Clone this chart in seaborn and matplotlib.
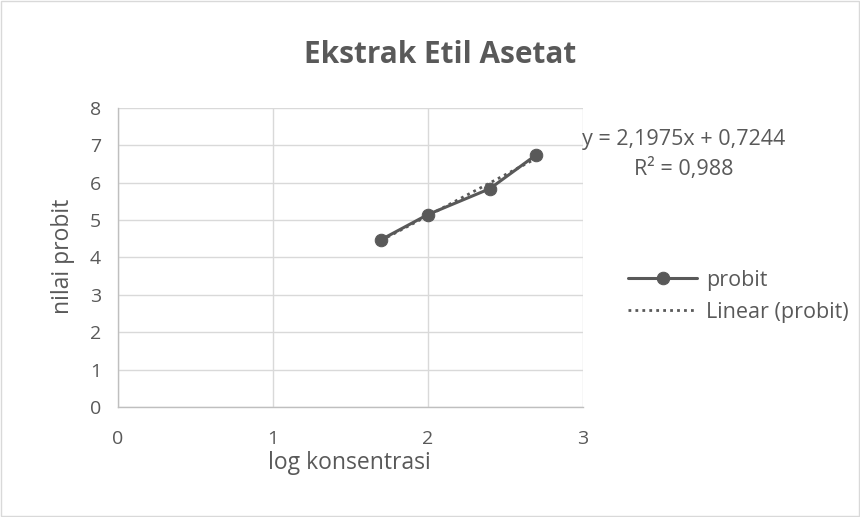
import numpy as np
import pandas as pd
import seaborn as sns
import matplotlib.pyplot as plt

# data
log_konsentrasi = [1.699, 2.0, 2.398, 2.699]
probit = [4.48, 5.15, 5.84, 6.75]
slope = 2.1975
intercept = 0.7244
r2 = 0.988
x_ticks = [0, 1, 2, 3]
y_ticks = [0, 1, 2, 3, 4, 5, 6, 7, 8]

sns.set_theme(style='white')
plt.rcParams['font.family'] = ['Open Sans', 'DejaVu Sans']

grey = '#595959'
df = pd.DataFrame({'x': log_konsentrasi, 'y': probit})
trend = pd.DataFrame({'x': log_konsentrasi,
                      'y': [slope * v + intercept for v in log_konsentrasi]})

fig = plt.figure(figsize=(8.6, 5.17), dpi=100)
ax = fig.add_axes([0.137, 0.213, 0.541, 0.578])

sns.lineplot(data=df, x='x', y='y', ax=ax, color=grey, linewidth=2.2,
             marker='o', markersize=9, markeredgecolor=grey, label='probit')
sns.lineplot(data=trend, x='x', y='y', ax=ax, color=grey, linewidth=2,
             linestyle=(0, (1, 1.5)), label='Linear (probit)')

ax.set_xlim(0, 3)
ax.set_ylim(0, 8)
ax.set_xticks(x_ticks)
ax.set_yticks(y_ticks)
ax.grid(True, color='#d9d9d9', linewidth=1)
for s in ['top', 'right']:
    ax.spines[s].set_visible(False)
for s in ['left', 'bottom']:
    ax.spines[s].set_color('#bfbfbf')
    ax.spines[s].set_linewidth(1)
ax.tick_params(axis='both', length=0, labelsize=14, labelcolor=grey)
ax.tick_params(axis='x', pad=17)
ax.tick_params(axis='y', pad=12)

ax.set_xlabel('log konsentrasi', fontsize=16.5, color=grey)
ax.xaxis.set_label_coords(0.497, -0.148)
ax.set_ylabel('nilai probit', fontsize=16.5, color=grey)
ax.yaxis.set_label_coords(-0.092, 0.502)
fig.text(0.512, 0.893, 'Ekstrak Etil Asetat', ha='center', va='center',
         fontsize=21.4, fontweight='bold', color=grey)

fig.text(0.795, 0.731, 'y = 2,1975x + 0,7244', ha='center', va='center',
         fontsize=15.5, color=grey)
fig.text(0.795, 0.673, 'R² = 0,988', ha='center', va='center',
         fontsize=15.5, color=grey)

ax.legend(loc='center left', bbox_to_anchor=(1.097, 0.37), frameon=False,
          fontsize=15.5, labelcolor=grey, handlelength=3.2, labelspacing=0.5,
          handletextpad=0.4, borderpad=0, borderaxespad=0)

fig.patches.append(plt.Rectangle((0.001, 0.001), 0.998, 0.998, transform=fig.transFigure,
                                 fill=False, edgecolor='#d9d9d9', linewidth=1))

plt.savefig('out.png', dpi=100)
